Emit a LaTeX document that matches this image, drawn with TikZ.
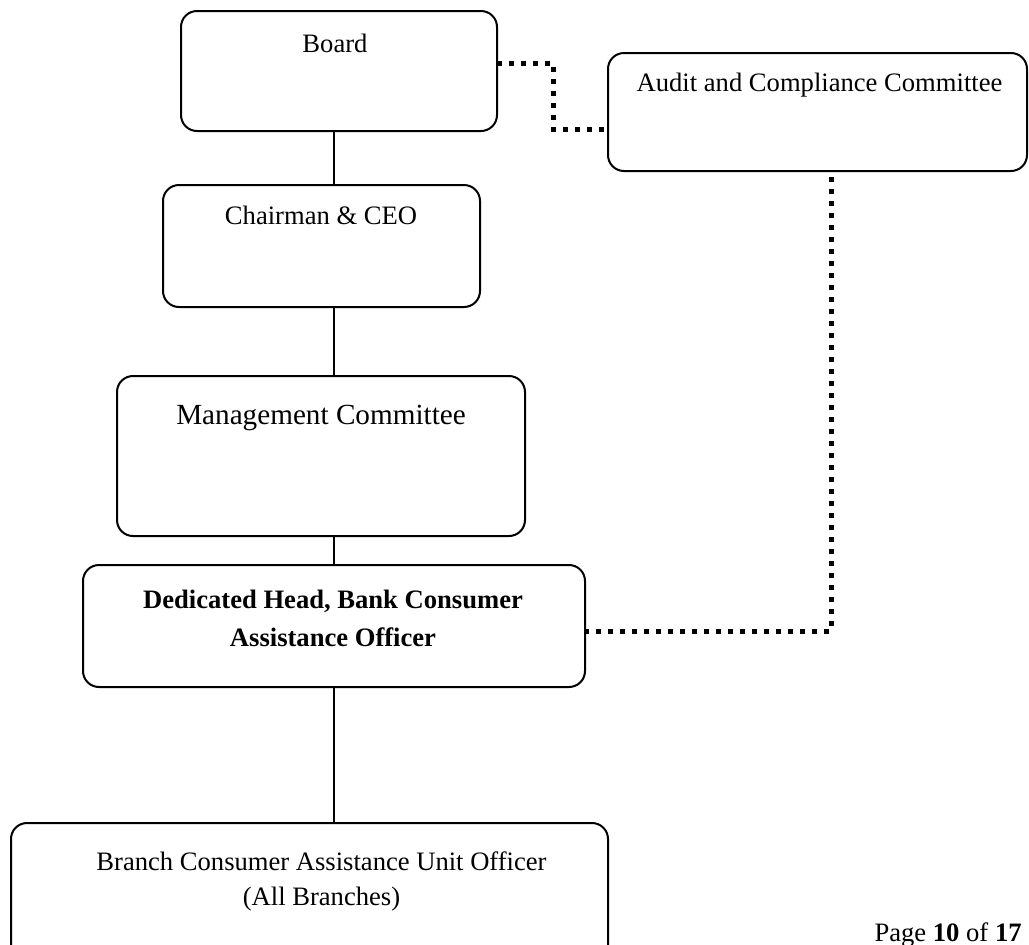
\documentclass[tikz,border=0pt]{standalone}
\usepackage{fontspec}
\setmainfont{Liberation Serif}
\usepackage{tikz}
\usetikzlibrary{positioning}

\begin{document}
\begin{tikzpicture}[
    x=0.5pt, y=-0.5pt,
    every node/.style={font=\fontsize{13.3}{17}\selectfont},
    box/.style={draw, rounded corners=8pt, line width=1pt, inner sep=0pt, outer sep=0pt},
    txt/.style={anchor=base, align=center, inner sep=0pt},
    conn/.style={line width=0.75pt},
    dots/.style={line width=2.5pt, dash pattern=on 2.5pt off 3.5pt}
]
\useasboundingbox (0,0) rectangle (1029,944);

% Boxes
\node[box, minimum width=158pt, minimum height=60pt] (board) at (339,71) {};
\node[box, minimum width=209.5pt, minimum height=59pt] (audit) at (817.5,112) {};
\node[box, minimum width=158.5pt, minimum height=61pt] (chair) at (321.5,246) {};
\node[box, minimum width=204pt, minimum height=80pt] (mgmt) at (321,456) {};
\node[box, minimum width=251pt, minimum height=61pt] (ded) at (334,626) {};
\node[box, minimum width=298.5pt, minimum height=73.5pt] (branch) at (309.5,896.5) {};

% Texts (base = last line)
\node[txt] (boardtxt) at (335,52) {Board};
\node[txt] (audittxt) at (819.5,91.5) {Audit and Compliance Committee};
\node[txt] (chairtxt) at (321,224) {Chairman \& CEO};
\node[txt, font=\fontsize{14.6}{18}\selectfont] (mgmttxt) at (321,424) {Management Committee};
\node[txt, font=\fontsize{13.3}{19}\selectfont\bfseries] (dedtxt) at (333,646) {Dedicated Head, Bank Consumer\\Assistance Officer};
\node[txt, font=\fontsize{13.3}{17.5}\selectfont] (branchtxt) at (321.5,905) {Branch Consumer Assistance Unit Officer\\(All Branches)};
\node[anchor=base east, inner sep=0pt] (pagenum) at (1022,941) {Page \textbf{10} of \textbf{17}};

% Reporting line
\draw[conn] (ded |- board.south) -- (ded |- chair.north);
\draw[conn] (ded |- chair.south) -- (ded |- mgmt.north);
\draw[conn] (ded |- mgmt.south) -- (ded.north);
\draw[conn] (ded.south) -- (ded |- branch.north);

% Dotted links to the committee
\coordinate (bj) at (553,63);
\coordinate (aj) at (553,129);
\coordinate (dj) at (831,631);
\draw[dots] (board.east |- bj) -- (bj) -- (aj) -- (audit.west |- aj);
\draw[dots, shorten <=3pt] (audit.south -| dj) -- (dj) -- (ded.east |- dj);

\end{tikzpicture}
\end{document}
